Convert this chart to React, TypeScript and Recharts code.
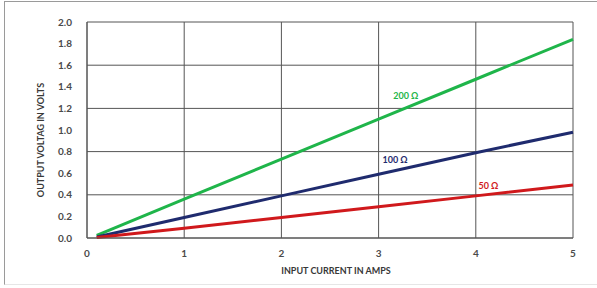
import React from "react";
import { LineChart, Line, XAxis, YAxis, CartesianGrid, ReferenceDot, Label } from "recharts";

const currents = [0.1, 1, 2, 3, 4, 5];
const ohm200 = [0.025, 0.36, 0.73, 1.1, 1.47, 1.84];
const ohm100 = [0.01, 0.19, 0.39, 0.59, 0.79, 0.98];
const ohm50 = [0.005, 0.09, 0.19, 0.29, 0.39, 0.49];
const xTicks = [0, 1, 2, 3, 4, 5];
const yTicks = [0, 0.2, 0.4, 0.6, 0.8, 1.0, 1.2, 1.4, 1.6, 1.8, 2.0];
const seriesLabels = [
  { text: "200 Ω", x: 3.28, y: 1.32, color: "#1fb54a" },
  { text: "100 Ω", x: 3.17, y: 0.725, color: "#1f2b6e" },
  { text: "50 Ω", x: 4.13, y: 0.484, color: "#d0191c" },
];

const data = currents.map((c, i) => ({ x: c, a: ohm200[i], b: ohm100[i], c: ohm50[i] }));

const FONT = "Lato, 'Open Sans', sans-serif";

export default function App() {
  return (
    <div style={{ position: "fixed", left: 0, top: 0, width: 597, height: 288, background: "#fff" }}>
      <div
        style={{
          position: "absolute",
          left: 4,
          top: 1,
          width: 600,
          height: 282,
          borderLeft: "1px solid #9a9a9a",
          borderTop: "1px solid #9a9a9a",
          borderBottom: "1px solid #e6e6e6",
        }}
      />
      <div style={{ position: "absolute", left: 0, top: 0 }}>
        <LineChart width={597} height={288} data={data} margin={{ top: 22, right: 24, left: 0, bottom: 0 }}>
          <CartesianGrid stroke="#555555" strokeWidth={1} />
          <XAxis
            dataKey="x"
            type="number"
            domain={[0, 5]}
            ticks={xTicks}
            height={50}
            tickLine={false}
            axisLine={{ stroke: "#555555" }}
            tick={{ fill: "#4a4a4a", fontSize: 10, fontWeight: 700, fontFamily: FONT }}
            tickMargin={6}
          >
            <Label
              content={({ viewBox }: any) => (
                <text
                  x={viewBox.x + viewBox.width / 2 + 6}
                  y={viewBox.y + 36}
                  textAnchor="middle"
                  fill="#383838"
                  fontSize={9}
                  fontWeight={700}
                  fontFamily={FONT}
                >
                  INPUT CURRENT IN AMPS
                </text>
              )}
            />
          </XAxis>
          <YAxis
            type="number"
            domain={[0, 2]}
            ticks={yTicks}
            width={87}
            tickLine={false}
            axisLine={{ stroke: "#555555" }}
            tick={{ fill: "#4a4a4a", fontSize: 10, fontWeight: 700, fontFamily: FONT }}
            tickFormatter={(v: number) => v.toFixed(1)}
            tickMargin={9}
          >
            <Label
              content={({ viewBox }: any) => (
                <text
                  x={44}
                  y={viewBox.y + viewBox.height / 2 + 10}
                  transform={`rotate(-90, 44, ${viewBox.y + viewBox.height / 2 + 10})`}
                  textAnchor="middle"
                  fill="#383838"
                  fontSize={9}
                  fontWeight={700}
                  fontFamily={FONT}
                >
                  OUTPUT VOLTAG IN VOLTS
                </text>
              )}
            />
          </YAxis>
          <Line type="linear" dataKey="a" stroke="#1fb54a" strokeWidth={3} dot={false} isAnimationActive={false} />
          <Line type="linear" dataKey="b" stroke="#1f2b6e" strokeWidth={3} dot={false} isAnimationActive={false} />
          <Line type="linear" dataKey="c" stroke="#d0191c" strokeWidth={3} dot={false} isAnimationActive={false} />
          {seriesLabels.map((l) => (
            <ReferenceDot
              key={l.text}
              x={l.x}
              y={l.y}
              r={0}
              fill="none"
              stroke="none"
              label={{ value: l.text, position: "center", fill: l.color, fontSize: 9, fontWeight: 700, fontFamily: FONT }}
            />
          ))}
        </LineChart>
      </div>
    </div>
  );
}
